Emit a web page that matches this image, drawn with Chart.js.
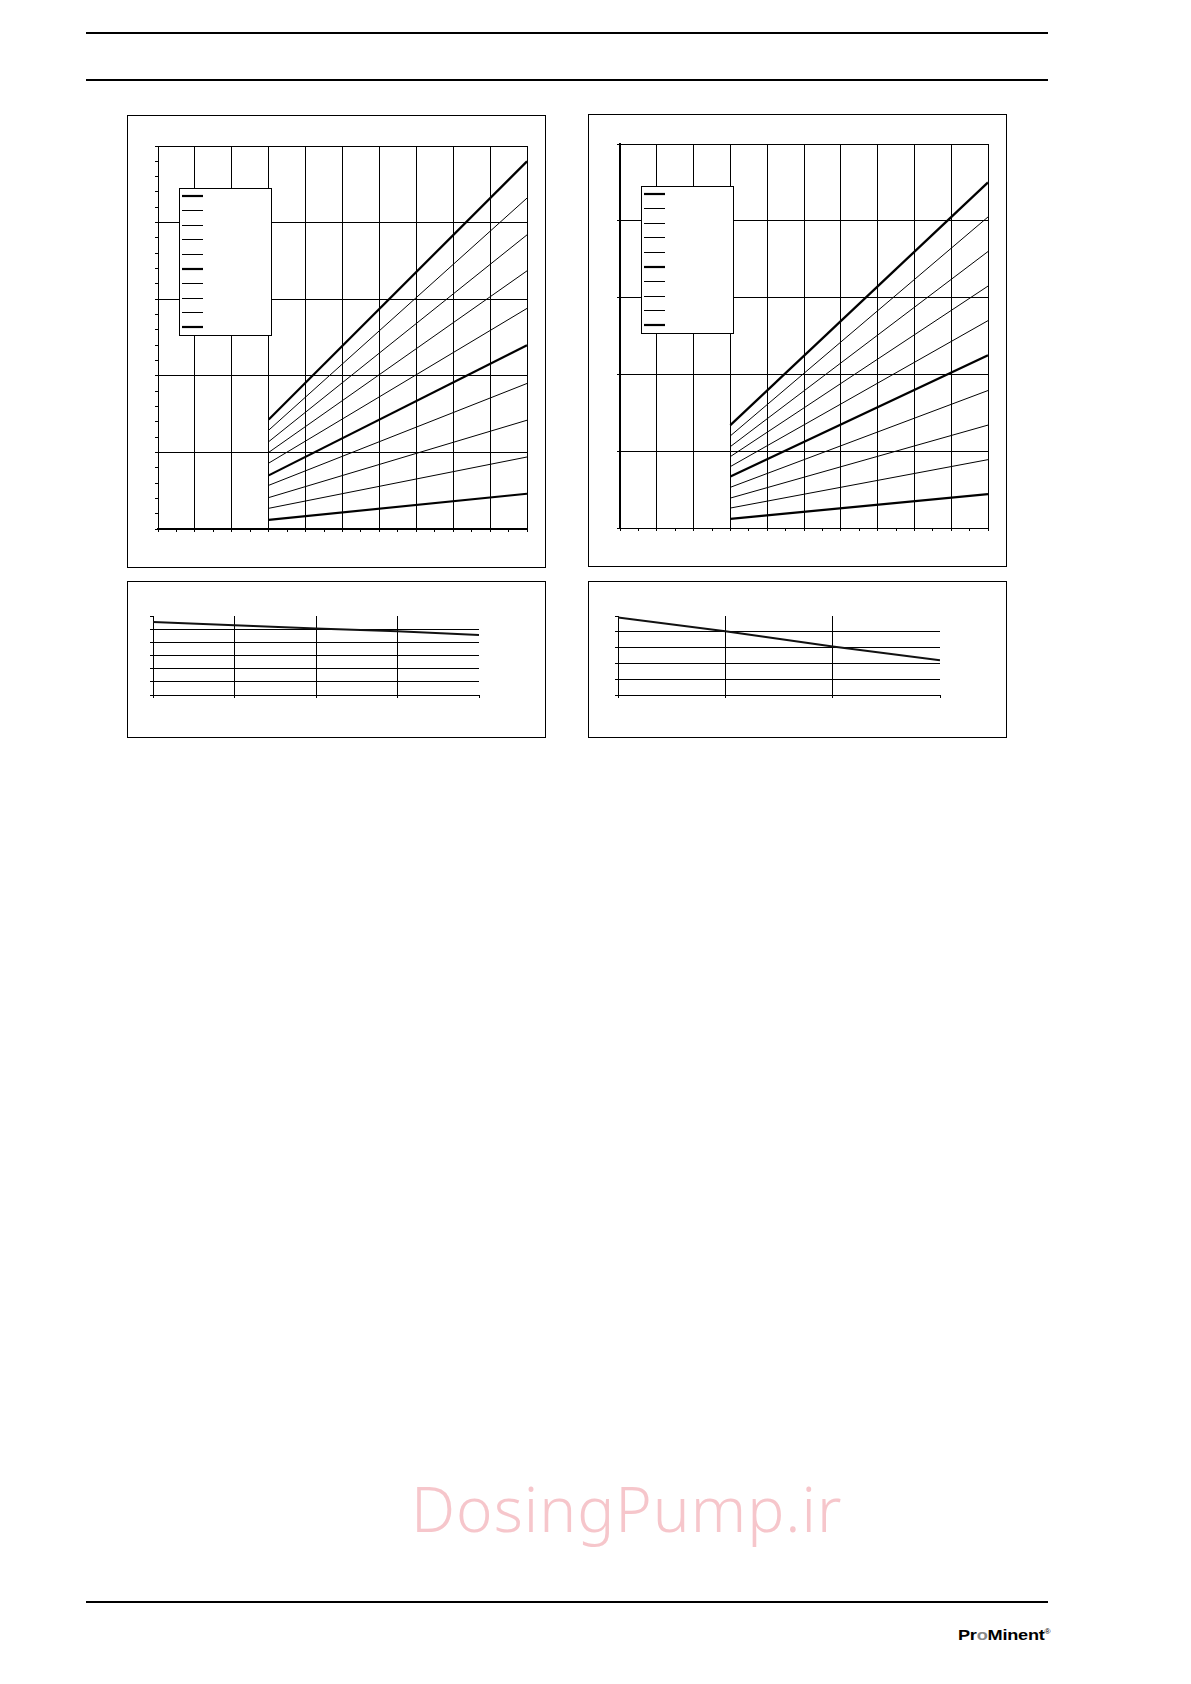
<!DOCTYPE html>
<html>
<head>
<meta charset="utf-8">
<title>ProMinent capacity curves</title>
<script src="https://cdn.jsdelivr.net/npm/chart.js@4.4.1/dist/chart.umd.min.js"></script>
<style>
  html, body { margin: 0; padding: 0; background: #fff; }
  body { position: relative; width: 1191px; height: 1684px; overflow: hidden; }
  .rule { position: absolute; left: 86px; width: 962px; height: 2px; background: #000; }
  .frame { position: absolute; box-sizing: border-box; border: 1px solid #000; }
  canvas { position: absolute; }
  #watermark {
    position: absolute; left: 411px; top: 1466px;
    font-family: 'Noto Sans', sans-serif; font-weight: 300; font-size: 62px;
    color: rgba(240, 160, 168, 0.6); white-space: nowrap; letter-spacing: 1px;
  }
  #logo {
    position: absolute; left: 958px; top: 1626px;
    font-family: 'Liberation Sans', Arial, sans-serif; font-weight: bold; font-size: 15.5px;
    color: #000; white-space: nowrap; letter-spacing: -0.2px;
    transform: scaleX(1.17); transform-origin: left top;
  }
  #logo .o { color: #888; }
  #logo sup { font-size: 7px; vertical-align: 6px; font-weight: normal; }
</style>
</head>
<body>
<div class="rule" style="top:32px"></div>
<div class="rule" style="top:79px"></div>

<div class="frame" style="left:127px;top:115px;width:419px;height:453px"></div>
<canvas id="capLeft" width="419" height="453" style="left:127px;top:115px"></canvas>

<div class="frame" style="left:588px;top:114px;width:419px;height:453px"></div>
<canvas id="capRight" width="419" height="453" style="left:588px;top:114px"></canvas>

<div class="frame" style="left:127px;top:581px;width:419px;height:157px"></div>
<canvas id="corrLeft" width="419" height="157" style="left:127px;top:581px"></canvas>

<div class="frame" style="left:588px;top:581px;width:419px;height:157px"></div>
<canvas id="corrRight" width="419" height="157" style="left:588px;top:581px"></canvas>

<div id="watermark">DosingPump.ir</div>
<div class="rule" style="top:1601px"></div>
<div id="logo">Pr<span class="o">o</span>Minent<sup>®</sup></div>

<script>
// ── Data ──────────────────────────────────────────────────────────────────
// stroke length settings, one curve each (100 % at the top)
var strokeLengths = ['100 %', '90 %', '80 %', '70 %', '60 %', '50 %', '40 %', '30 %', '20 %', '10 %'];
var thickCurves   = [0, 5, 9];

// stroke frequency (%) where the curves start / end
var freqPoints = [30, 100];

// capacity at start / end frequency, left diagram
var capLeftStart = [14.3, 12.9, 11.4, 10.0, 8.6, 7.0, 5.7, 4.1, 2.7, 1.2];
var capLeftEnd   = [48.0, 43.2, 38.4, 33.7, 28.8, 24.0, 19.0, 14.2, 9.4, 4.6];

// capacity at start / end frequency, right diagram
var capRightStart = [13.4, 12.0, 10.6, 9.3, 8.0, 6.7, 5.3, 3.9, 2.6, 1.2];
var capRightEnd   = [45.0, 40.5, 36.0, 31.5, 27.0, 22.5, 17.9, 13.4, 8.9, 4.4];

// pressure correction, small diagrams
var corrLeftX  = [0, 1, 2, 3, 4];
var corrLeftY  = [5.55, 5.30, 5.06, 4.84, 4.55];
var corrRightX = [0, 1, 2, 3];
var corrRightY = [4.90, 4.04, 3.07, 2.20];

// ── Helpers ───────────────────────────────────────────────────────────────
var CLEAR = 'rgba(0,0,0,0)';

function majorOnly(step) {
    return function (ctx) {
        return ctx.tick && ctx.tick.value % step === 0 ? '#000' : CLEAR;
    };
}
function hideMax(max) {
    return function (ctx) {
        return ctx.tick && ctx.tick.value === max ? CLEAR : '#000';
    };
}

// legend frame with line samples only (the original carries no text)
var sampleLegend = {
    id: 'sampleLegend',
    afterDatasetsDraw: function (chart) {
        var a = chart.chartArea, c = chart.ctx;
        var bx = a.left + 21, by = a.top + 42, bw = 92, bh = 147;
        c.save();
        c.fillStyle = '#fff';
        c.fillRect(bx, by, bw, bh);
        c.strokeStyle = '#000';
        c.lineWidth = 1;
        c.strokeRect(Math.round(bx) + 0.5, Math.round(by) + 0.5, bw, bh);
        chart.data.datasets.forEach(function (ds, i) {
            var y = Math.round(by + 7.5 + i * 14.6) + (ds.borderWidth > 1 ? 0 : 0.5);
            c.lineWidth = ds.borderWidth;
            c.beginPath();
            c.moveTo(bx + 3, y);
            c.lineTo(bx + 24, y);
            c.stroke();
        });
        c.restore();
    }
};

function capacityChart(id, starts, ends, opt) {
    var datasets = strokeLengths.map(function (lbl, i) {
        return {
            label: lbl,
            data: [{ x: freqPoints[0], y: starts[i] }, { x: freqPoints[1], y: ends[i] }],
            borderColor: '#000',
            borderWidth: thickCurves.indexOf(i) >= 0 ? 2.2 : 1,
            pointRadius: 0,
            fill: false
        };
    });
    return new Chart(document.getElementById(id), {
        type: 'line',
        data: { datasets: datasets },
        plugins: [sampleLegend],
        options: {
            responsive: false,
            animation: false,
            devicePixelRatio: 1,
            layout: { padding: opt.padding },
            plugins: { legend: { display: false }, tooltip: { enabled: false } },
            scales: {
                x: {
                    type: 'linear', min: 0, max: 100,
                    ticks: { display: false, stepSize: 5 },
                    grid: { color: majorOnly(10), tickColor: '#000', tickLength: 3, lineWidth: 1 },
                    border: { color: '#000', width: opt.xBorder }
                },
                y: {
                    type: 'linear', min: 0, max: 50,
                    ticks: { display: false, stepSize: opt.yStep },
                    grid: { color: majorOnly(10), tickColor: '#000', tickLength: 3, lineWidth: 1 },
                    border: { color: '#000', width: opt.yBorder }
                }
            }
        }
    });
}

function correctionChart(id, xs, ys, xMax, yMax, padding) {
    return new Chart(document.getElementById(id), {
        type: 'line',
        data: {
            datasets: [{
                data: xs.map(function (x, i) { return { x: x, y: ys[i] }; }),
                borderColor: '#111',
                borderWidth: 2,
                pointRadius: 0,
                fill: false
            }]
        },
        options: {
            responsive: false,
            animation: false,
            devicePixelRatio: 1,
            layout: { padding: padding },
            plugins: { legend: { display: false }, tooltip: { enabled: false } },
            scales: {
                x: {
                    type: 'linear', min: 0, max: xMax,
                    ticks: { display: false, stepSize: 1 },
                    grid: { color: hideMax(xMax), tickColor: '#000', tickLength: 3 },
                    border: { color: '#000', width: 1 }
                },
                y: {
                    type: 'linear', min: 0, max: yMax,
                    ticks: { display: false, stepSize: 1 },
                    grid: { color: hideMax(yMax), tickColor: '#000', tickLength: 3 },
                    border: { color: '#000', width: 1 }
                }
            }
        }
    });
}

// ── Build ─────────────────────────────────────────────────────────────────
capacityChart('capLeft', capLeftStart, capLeftEnd, {
    padding: { left: 28, right: 19, top: 31, bottom: 36 },
    yStep: 2, xBorder: 2, yBorder: 1
});
capacityChart('capRight', capRightStart, capRightEnd, {
    padding: { left: 29, right: 19, top: 30, bottom: 36 },
    yStep: 10, xBorder: 1, yBorder: 2
});
correctionChart('corrLeft', corrLeftX, corrLeftY, 4, 6,
    { left: 23, right: 67, top: 35, bottom: 40 });
correctionChart('corrRight', corrRightX, corrRightY, 3, 5,
    { left: 27, right: 67, top: 35, bottom: 40 });
</script>
</body>
</html>
